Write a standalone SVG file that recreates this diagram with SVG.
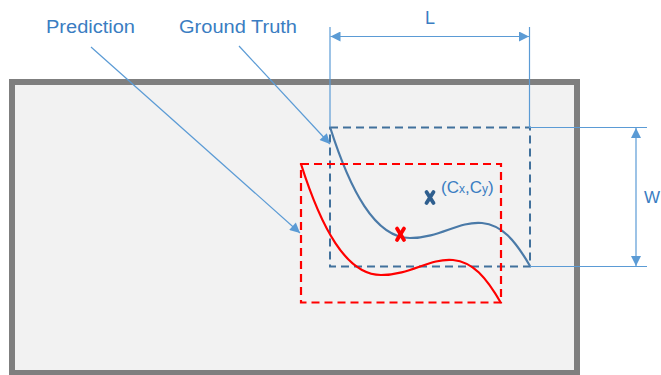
<svg xmlns="http://www.w3.org/2000/svg" width="661" height="375" viewBox="0 0 661 375">
<style>
.lbl{font-family:"Liberation Sans",Arial,sans-serif;font-size:18px;fill:#3a7dc2}
.dim{stroke:#5b9bd5;stroke-width:1.2;fill:none}
.lead{stroke:#5b9bd5;stroke-width:1.2;fill:none;marker-end:url(#ah)}
</style>
<defs>
<marker id="ah" viewBox="0 0 10 10" refX="10" refY="5" markerWidth="12" markerHeight="10" markerUnits="userSpaceOnUse" orient="auto">
<path d="M0,0 L10,5 L0,10 Z" fill="#5b9bd5"/>
</marker>
<marker id="ahs" viewBox="0 0 10 10" refX="10" refY="5" markerWidth="11" markerHeight="10" markerUnits="userSpaceOnUse" orient="auto-start-reverse">
<path d="M0,0 L10,5 L0,10 Z" fill="#5b9bd5"/>
</marker>
</defs>
<g id="image">
<rect x="12" y="82" width="565" height="291" fill="#f2f2f2" stroke="#7f7f7f" stroke-width="6"/>
</g>
<g id="ground-truth">
<rect x="330" y="127.5" width="200" height="139" fill="none" stroke="#41719c" stroke-width="2" stroke-dasharray="8,5"/>
<path d="M330,127 C350,190 375,238 410,238 C440,238 458,221 482,223 C502,225 515,240 530,266" fill="none" stroke="#4a7aa8" stroke-width="2.2"/>
<g stroke="#2f5f8f" stroke-width="3.8" stroke-linecap="round">
<line x1="426.5" y1="192" x2="433.5" y2="203"/>
<line x1="433.5" y1="192" x2="426.5" y2="203"/>
</g>
</g>
<g id="prediction">
<rect x="301" y="164" width="200" height="138.5" fill="none" stroke="#ff0000" stroke-width="2.2" stroke-dasharray="8,5"/>
<path d="M301,164 C321,227 346,275 381,275 C411,275 429,258 453,260 C473,262 486,277 501,303" fill="none" stroke="#ff0000" stroke-width="2.2"/>
<g stroke="#ff0000" stroke-width="3.8" stroke-linecap="round">
<line x1="397" y1="228.5" x2="404" y2="240"/>
<line x1="404" y1="228.5" x2="397" y2="240"/>
</g>
</g>
<g id="labels">
<text class="lbl" x="46" y="33" textLength="89" lengthAdjust="spacingAndGlyphs">Prediction</text>
<text class="lbl" x="179" y="33" textLength="118" lengthAdjust="spacingAndGlyphs">Ground Truth</text>
<text class="lbl" x="425" y="24">L</text>
<text class="lbl" x="644" y="203" style="font-size:17px">W</text>
<text class="lbl" x="441" y="193" style="font-size:17px">(C<tspan style="font-size:12px">x</tspan>,C<tspan style="font-size:12px">y</tspan>)</text>
</g>
<g id="connectors">
<line class="dim" x1="330" y1="27" x2="330" y2="127"/>
<line class="dim" x1="529.5" y1="27" x2="529.5" y2="127.5"/>
<line class="dim" x1="330.5" y1="36.5" x2="529" y2="36.5" marker-start="url(#ahs)" marker-end="url(#ahs)"/>
<line class="dim" x1="529" y1="127.5" x2="647" y2="127.5"/>
<line class="dim" x1="530" y1="266.5" x2="647" y2="266.5"/>
<line class="dim" x1="636" y1="128" x2="636" y2="266" marker-start="url(#ahs)" marker-end="url(#ahs)"/>
<line class="lead" x1="91" y1="47" x2="300" y2="233"/>
<line class="lead" x1="239" y1="46" x2="330" y2="144"/>
</g>
</svg>
